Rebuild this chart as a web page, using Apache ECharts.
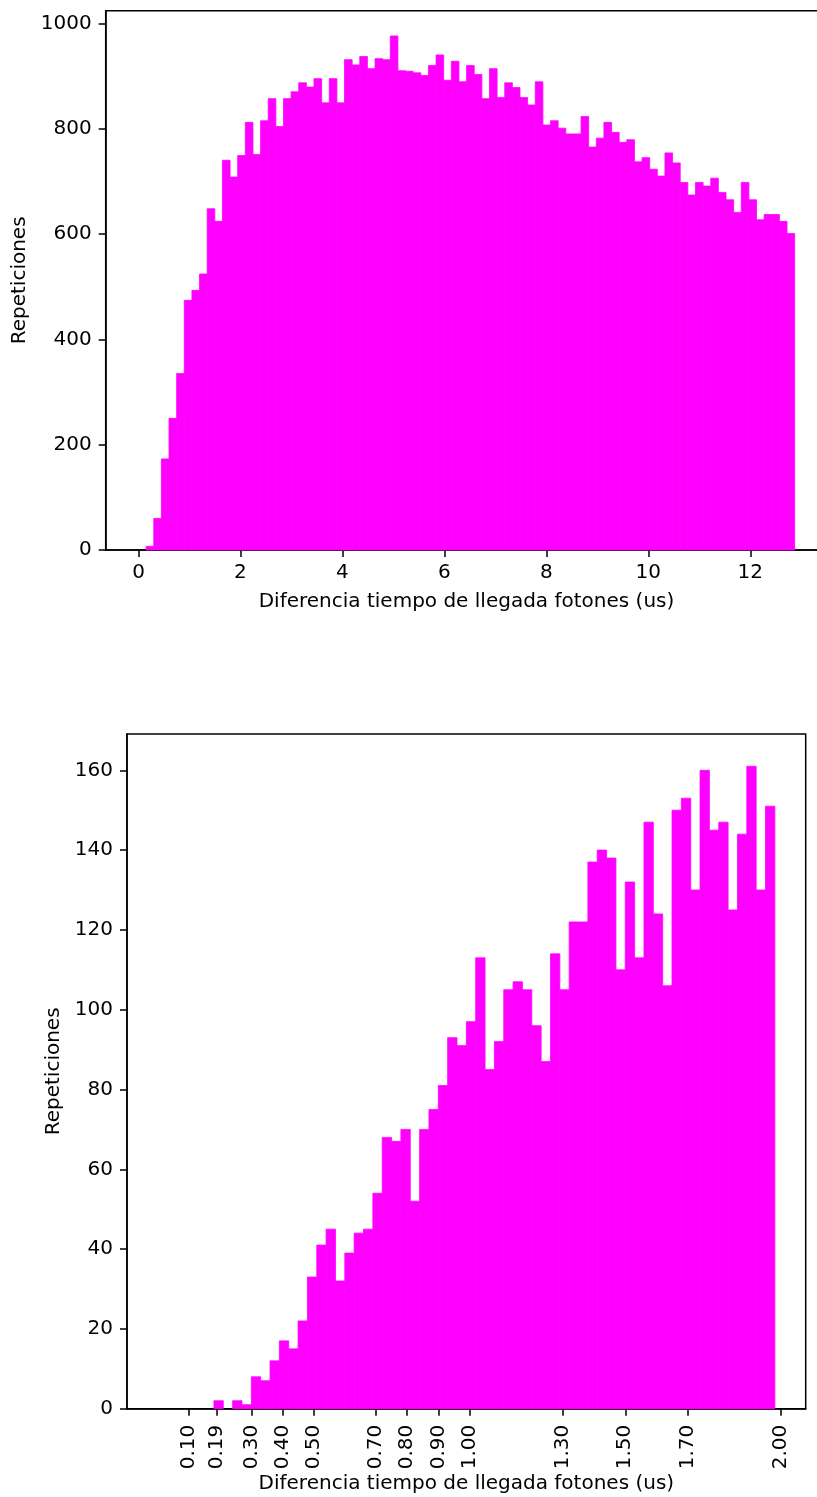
<!DOCTYPE html>
<html>
<head>
<meta charset="utf-8">
<script src="https://cdn.jsdelivr.net/npm/echarts@6/dist/echarts.min.js"></script>
<style>
html, body { margin: 0; padding: 0; background: #fff; }
#chart { width: 817px; height: 1497px; }
</style>
</head>
<body>
<div id="chart"></div>
<script>
// top histogram: 86 bins between 0 and topMax
const topMax = 12.87
const topCounts = [
  0, 7, 60, 173, 250, 335, 474, 493, 524, 648,
  624, 740, 708, 749, 812, 751, 815, 857, 804, 857,
  870, 887, 879, 895, 849, 895, 849, 931, 921, 937,
  914, 933, 931, 976, 910, 909, 906, 901, 920, 940,
  892, 928, 889, 920, 903, 857, 914, 859, 887, 878,
  859, 845, 889, 807, 815, 801, 790, 790, 823, 765,
  782, 812, 793, 774, 779, 737, 745, 723, 710, 754,
  735, 698, 674, 698, 691, 706, 679, 665, 641, 698,
  665, 627, 637, 637, 624, 601
]
const topXTicks = [0, 2, 4, 6, 8, 10, 12]
const topYTicks = [0, 200, 400, 600, 800, 1000]

// bottom histogram: 66 bins between 0 and bottomMax
const bottomMax = 1.98
const bottomCounts = [
  0, 0, 0, 0, 0, 0, 2, 0, 2, 1,
  8, 7, 12, 17, 15, 22, 33, 41, 45, 32,
  39, 44, 45, 54, 68, 67, 70, 52, 70, 75,
  81, 93, 91, 97, 113, 85, 92, 105, 107, 105,
  96, 87, 114, 105, 122, 122, 137, 140, 138, 110,
  132, 113, 147, 124, 106, 150, 153, 130, 160, 145,
  147, 125, 144, 161, 130, 151
]
const bottomXTicks = [0.10, 0.19, 0.30, 0.40, 0.50, 0.70, 0.80, 0.90, 1.00, 1.30, 1.50, 1.70, 2.00]
const bottomXLabels = ['0.10', '0.19', '0.30', '0.40', '0.50', '0.70', '0.80', '0.90', '1.00', '1.30', '1.50', '1.70', '2.00']
const bottomYTicks = [0, 20, 40, 60, 80, 100, 120, 140, 160]

const xTitle = 'Diferencia tiempo de llegada fotones (us)'
const yTitle = 'Repeticiones'

function toBins(counts, max) {
  const w = max / counts.length
  return counts.map((c, i) => [i * w, (i + 1) * w, c])
}

function histItem(params, api) {
  if (!api.value(2)) return null
  const p0 = api.coord([api.value(0), api.value(2)])
  const p1 = api.coord([api.value(1), 0])
  return {
    type: 'rect',
    shape: { x: p0[0], y: p0[1], width: p1[0] - p0[0], height: p1[1] - p0[1] },
    style: { fill: '#ff00ff', stroke: '#ff00ff', lineWidth: 0.8 }
  }
}

const font = 'DejaVu Sans'
const black = '#000'
const lw = 1.5

function axisBits(ticks, formatter, margin) {
  return {
    axisLine: { show: true, onZero: false, lineStyle: { color: black, width: lw } },
    axisTick: { show: true, customValues: ticks, length: 7, lineStyle: { color: black, width: lw } },
    axisLabel: {
      customValues: ticks, formatter, color: black, fontFamily: font, fontSize: 20,
      margin, hideOverlap: false
    },
    splitLine: { show: false }
  }
}

const nameStyle = { color: black, fontFamily: font, fontSize: 20 }

function pickLabel(v) {
  let best = 0
  bottomXTicks.forEach((t, i) => { if (Math.abs(t - v) < Math.abs(bottomXTicks[best] - v)) best = i })
  return bottomXLabels[best]
}

const chart = echarts.init(document.getElementById('chart'), null, { renderer: 'canvas' })
chart.setOption({
  backgroundColor: '#fff',
  animation: false,
  grid: [
    { left: 105.7, top: 10.7, right: -10.3, bottom: 947, show: true, borderColor: black, borderWidth: lw,
      backgroundColor: 'transparent', outerBoundsMode: 'none', containLabel: false },
    { left: 127, top: 734, right: 11.3, bottom: 88.3, show: true, borderColor: black, borderWidth: lw,
      backgroundColor: 'transparent', outerBoundsMode: 'none', containLabel: false }
  ],
  xAxis: [
    Object.assign({
      type: 'value', gridIndex: 0, min: -0.6435, max: 13.51,
      name: xTitle, nameLocation: 'middle', nameGap: 42, nameTextStyle: nameStyle
    }, axisBits(topXTicks, v => String(v), 13)),
    Object.assign({
      type: 'value', gridIndex: 1, min: -0.099, max: 2.079,
      name: xTitle, nameLocation: 'middle', nameGap: 65, nameTextStyle: nameStyle
    }, axisBits(bottomXTicks, pickLabel, 16))
  ],
  yAxis: [
    Object.assign({
      type: 'value', gridIndex: 0, min: 0, max: 1024,
      name: yTitle, nameLocation: 'middle', nameRotate: 90, nameGap: 76, nameTextStyle: nameStyle
    }, axisBits(topYTicks, v => String(v), 14)),
    Object.assign({
      type: 'value', gridIndex: 1, min: 0, max: 169.1,
      name: yTitle, nameLocation: 'middle', nameRotate: 90, nameGap: 62, nameTextStyle: nameStyle
    }, axisBits(bottomYTicks, v => String(v), 14))
  ],
  series: [
    { type: 'custom', xAxisIndex: 0, yAxisIndex: 0, renderItem: histItem,
      encode: { x: [0, 1], y: 2 }, data: toBins(topCounts, topMax) },
    { type: 'custom', xAxisIndex: 1, yAxisIndex: 1, renderItem: histItem,
      encode: { x: [0, 1], y: 2 }, data: toBins(bottomCounts, bottomMax) }
  ]
})

// rotate bottom tick labels
chart.setOption({ xAxis: [{}, { axisLabel: { rotate: 90 } }] })
</script>
</body>
</html>
